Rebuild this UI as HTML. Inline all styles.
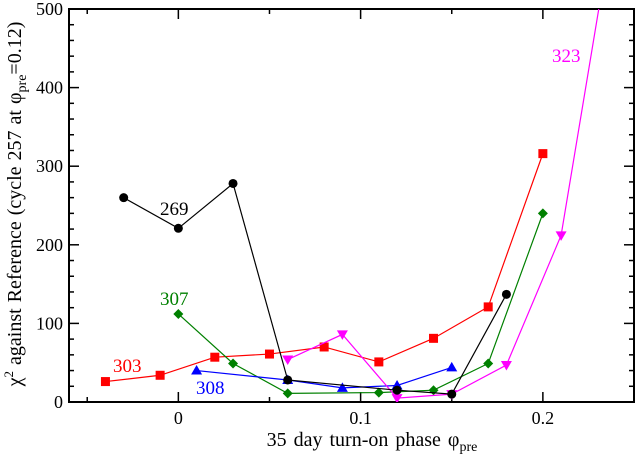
<!DOCTYPE html>
<html><head><meta charset="utf-8"><style>
body{margin:0;background:#fff}
svg{display:block;font-family:"Liberation Serif",serif}
</style></head><body>
<svg id="chart" width="635" height="454" viewBox="0 0 635 454" xmlns="http://www.w3.org/2000/svg">
<g id="axes"></g>
<g id="series"></g>
<text x="372" y="446" font-size="20" text-anchor="middle" word-spacing="2">35 day turn-on phase  φ<tspan font-size="14" dy="5">pre</tspan></text>
<text transform="translate(21,204) rotate(-90)" font-size="20" text-anchor="middle" word-spacing="1">χ<tspan font-size="13" dy="-8">2</tspan><tspan dy="8"> against Reference (cycle 257 at  φ</tspan><tspan font-size="14" dy="5">pre</tspan><tspan dy="-5">=0.12)</tspan></text>
</svg>
<script>
const xTicks=[0,0.1,0.2];
const yTicks=[0,100,200,300,400,500];
const s269x=[-0.03,0,0.03,0.06,0.12,0.15,0.18];
const s269y=[260,221,278,28,15,10,137];
const s303x=[-0.04,-0.01,0.02,0.05,0.08,0.11,0.14,0.17,0.2];
const s303y=[26,34,57,61,70,51,81,121,316];
const s307x=[0,0.03,0.06,0.11,0.14,0.17,0.2];
const s307y=[112,49,11,12,15,49,240];
const s308x=[0.01,0.06,0.09,0.12,0.15];
const s308y=[40,28,18,21,44];
const s323x=[0.06,0.09,0.12,0.15,0.18,0.21,0.24];
const s323y=[54,86,5,10,47,212,630];
const L=69,R=634,T=9,B=402,X0=-0.06,X1=0.25,Y0=0,Y1=500;
const sx=v=>L+(v-X0)/(X1-X0)*(R-L);
const sy=v=>B-(v-Y0)/(Y1-Y0)*(B-T);
const NS="http://www.w3.org/2000/svg";
function mk(t,a,p){const e=document.createElementNS(NS,t);for(const k in a)e.setAttribute(k,a[k]);p.appendChild(e);return e;}
const ax=document.getElementById('axes');
const frame=mk('rect',{x:L,y:T,width:R-L,height:B-T,fill:'none',stroke:'#000','stroke-width':2},ax);


for(let v=-0.05;v<=0.251;v+=0.05){const X=sx(v);const major=Math.abs(Math.round(v*10)-v*10)<1e-6;const len=major?10:5;
mk('line',{x1:X,y1:B,x2:X,y2:B-len,stroke:'#000','stroke-width':1.5},ax);
mk('line',{x1:X,y1:T,x2:X,y2:T+len,stroke:'#000','stroke-width':1.5},ax);}
xTicks.forEach(v=>{const t=mk('text',{x:sx(v),y:B+22,'font-size':18,'text-anchor':'middle'},ax);t.textContent=String(v);

});
for(let v=0;v<=500;v+=20){const Y=sy(v);const len=v%100===0?10:5;
mk('line',{x1:L,y1:Y,x2:L+len,y2:Y,stroke:'#000','stroke-width':1.5},ax);
mk('line',{x1:R,y1:Y,x2:R-len,y2:Y,stroke:'#000','stroke-width':1.5},ax);}
yTicks.forEach(v=>{const t=mk('text',{x:L-6,y:sy(v)+6,'font-size':18,'text-anchor':'end'},ax);t.textContent=String(v);

});
const sg=document.getElementById('series');
const cp=mk('clipPath',{id:'clip'},sg);
mk('rect',{x:L,y:T,width:R-L,height:B-T},cp);
function marker(type,X,Y,c,g){
 if(type==='circle')return mk('circle',{cx:X,cy:Y,r:4.5,fill:c},g);
 if(type==='square')return mk('rect',{x:X-4.5,y:Y-4.5,width:9,height:9,fill:c},g);
 if(type==='diamond')return mk('polygon',{points:`${X},${Y-5} ${X+5},${Y} ${X},${Y+5} ${X-5},${Y}`,fill:c},g);
 if(type==='up')return mk('polygon',{points:`${X},${Y-5.5} ${X+5.5},${Y+4} ${X-5.5},${Y+4}`,fill:c},g);
 return mk('polygon',{points:`${X},${Y+5.5} ${X+5.5},${Y-4} ${X-5.5},${Y-4}`,fill:c},g);
}
function series(name,xs,ys,c,type,lab,lx,ly){
 const g=mk('g',{'clip-path':'url(#clip)'},sg);
 
 
 mk('polyline',{points:xs.map((v,i)=>sx(v)+','+sy(ys[i])).join(' '),fill:'none',stroke:c,'stroke-width':1.2},g);
 xs.forEach((v,i)=>{const m=marker(type,sx(v),sy(ys[i]),c,g);
 
 });
 const t=mk('text',{x:lx,y:ly,'font-size':19,fill:c},sg);t.textContent=lab;
 
 
}
series('303',s303x,s303y,'#ff0000','square','303',113,372);
series('307',s307x,s307y,'#008000','diamond','307',160,305);
series('308',s308x,s308y,'#0000ff','up','308',196,394);
series('323',s323x,s323y,'#ff00ff','down','323',552,62);
series('269',s269x,s269y,'#000000','circle','269',160,215);
</script>
</body></html>
